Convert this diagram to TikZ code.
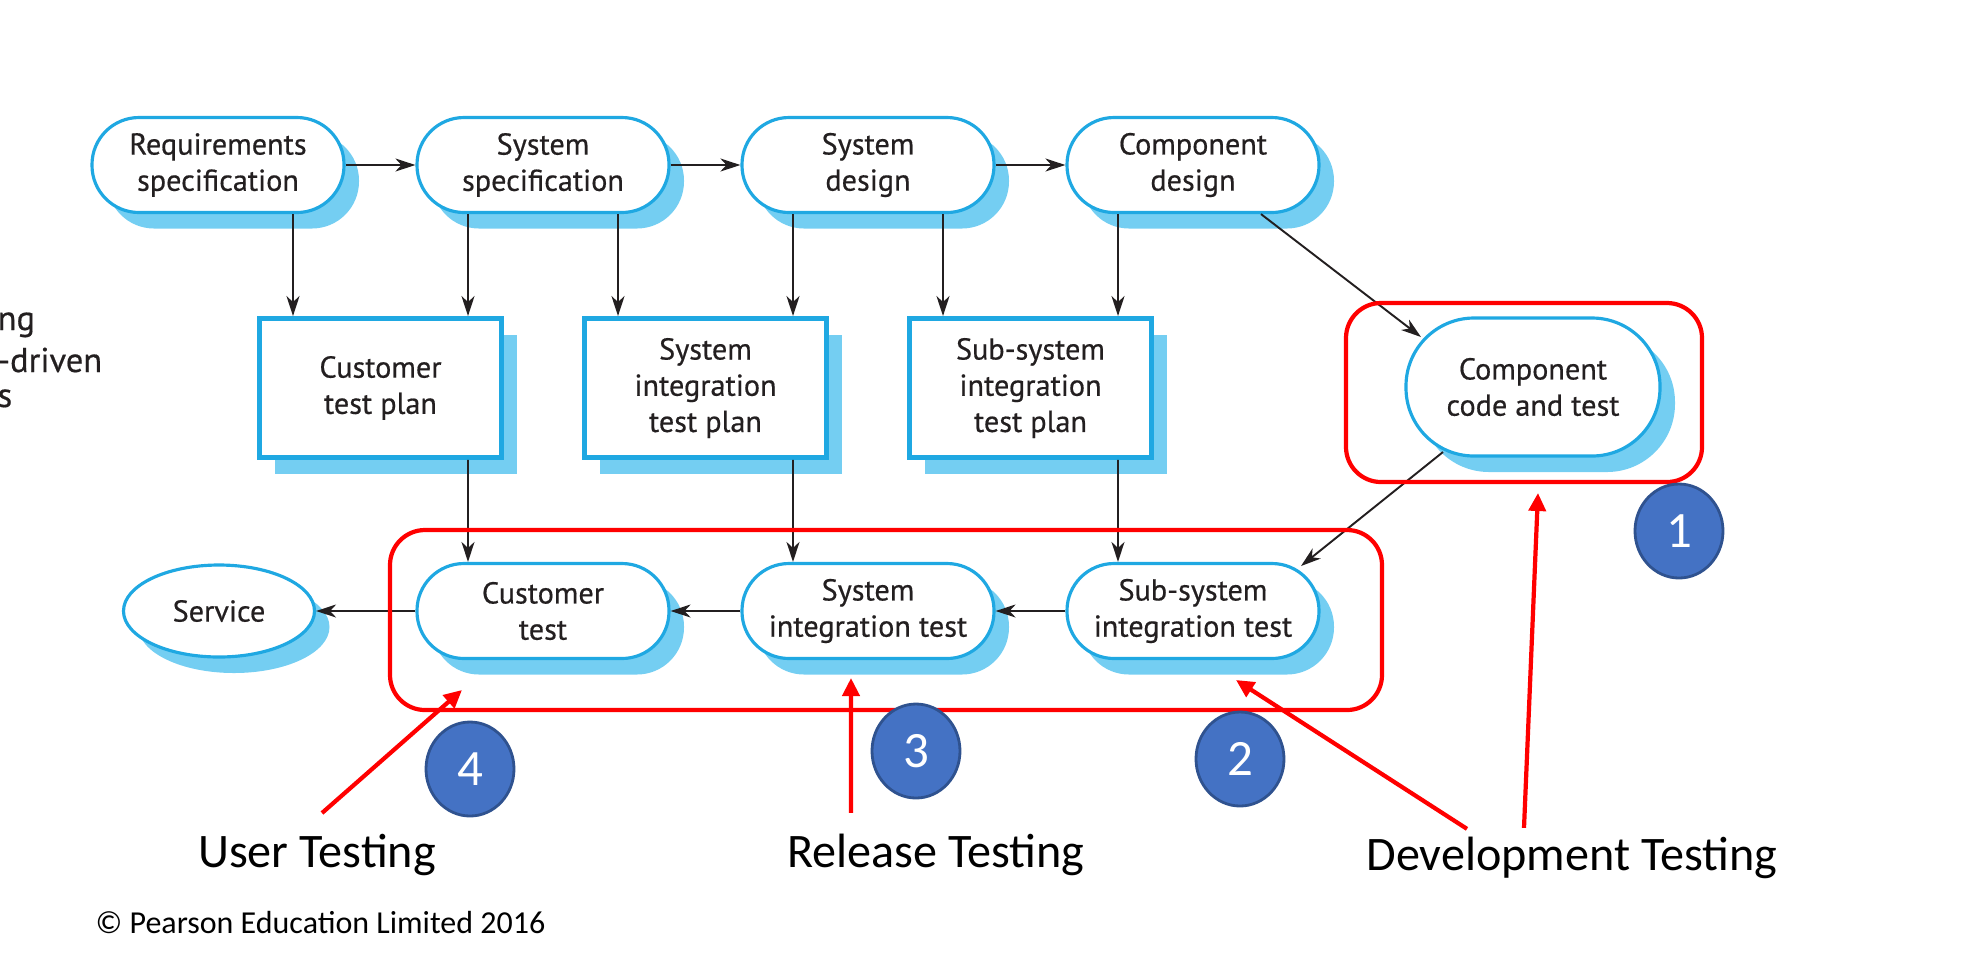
\documentclass[tikz,border=0pt]{standalone}
\usepackage{fontspec}
\setmainfont{PT Sans}[FakeBold=0.5]
\newfontfamily\notefont{Carlito}
\usetikzlibrary{arrows.meta,shapes.geometric,shadows}
\definecolor{ink}{HTML}{231F20}
\definecolor{edgeblue}{HTML}{1FA8E2}
\definecolor{shadeblue}{HTML}{74CEF2}
\definecolor{dotblue}{HTML}{4472C4}
\definecolor{dotedge}{HTML}{2F528F}
\tikzset{
    every node/.style={align=center, text=ink, font=\fontsize{8.6}{10.3}\selectfont},
    blueshade/.style={drop shadow={shadow xshift=1.5mm, shadow yshift=-1.6mm, fill=shadeblue, opacity=1}},
    stage/.style={draw=edgeblue, fill=white, line width=0.9pt, rectangle, rounded corners=4.7mm, minimum width=25.2mm, minimum height=9.5mm, inner sep=1pt, blueshade},
    plan/.style={draw=edgeblue, fill=white, line width=1.4pt, rectangle, minimum width=24.2mm, minimum height=13.9mm, inner sep=1pt, blueshade},
    flow/.style={draw=ink, line width=0.55pt, -{Stealth[length=2mm,width=1.3mm,inset=0.6mm]}},
    group/.style={draw=red, line width=1.2pt, rounded corners=3.5mm},
    pointer/.style={draw=red, line width=1.2pt, -{Triangle[length=1.8mm,width=1.7mm]}},
    badge/.style={ellipse, draw=dotedge, fill=dotblue, line width=0.8pt, minimum width=8.8mm, minimum height=9.4mm, inner sep=0pt, text=white, font=\notefont\fontsize{14.5}{14.5}\selectfont},
    caption/.style={inner sep=0pt, anchor=base, text=black, font=\notefont\fontsize{13.7}{13.7}\selectfont},
}

\begin{document}
\begin{tikzpicture}[x=1mm, y=-1mm]
        \useasboundingbox (0,0) rectangle (198.6,97.2);

        % cut-off caption on the left
        \node[anchor=base west, inner sep=0pt, font=\fontsize{9.8}{11}\selectfont] (cuta) at (-0.3, 33.0) {ng};
        \node[anchor=base west, inner sep=0pt, font=\fontsize{9.8}{11}\selectfont] (cutb) at (-0.3, 37.2) {-driven};
        \node[anchor=base west, inner sep=0pt, font=\fontsize{9.8}{11}\selectfont] (cutc) at (-0.3, 40.7) {s};

        \node[stage] (req) at (21.8, 16.5) {Requirements\\specification};
        \node[stage] (sysspec) at (54.3, 16.5) {System\\specification};
        \node[stage] (sysdes) at (86.8, 16.5) {System\\design};
        \node[stage] (compdes) at (119.3, 16.5) {Component\\design};

        \node[plan] (ctp) at (38.05, 38.8) {Customer\\test plan};
        \node[plan] (sitp) at (70.55, 38.8) {System\\integration\\test plan};
        \node[plan] (sstp) at (103.05, 38.8) {Sub-system\\integration\\test plan};
        \node[stage, minimum width=25.4mm, minimum height=13.8mm, rounded corners=6.8mm] (cct) at (153.3, 38.7) {Component\\code and test};

        \node[ellipse, draw=edgeblue, fill=white, line width=0.9pt, minimum width=19.1mm, minimum height=9.2mm, inner sep=1pt, blueshade] (service) at (21.9, 61.1) {Service};
        \node[stage] (ctest) at (54.3, 61.1) {Customer\\test};
        \node[stage] (sitest) at (86.8, 61.1) {System\\integration test};
        \node[stage] (ssitest) at (119.3, 61.1) {Sub-system\\integration test};

        \draw[flow] (req) to (sysspec);
        \draw[flow] (sysspec) to (sysdes);
        \draw[flow] (sysdes) to (compdes);

        \draw[flow] ([xshift=7.5mm]req.south) to ([xshift=-8.75mm]ctp.north);
        \draw[flow] ([xshift=-7.5mm]sysspec.south) to ([xshift=8.75mm]ctp.north);
        \draw[flow] ([xshift=7.5mm]sysspec.south) to ([xshift=-8.75mm]sitp.north);
        \draw[flow] ([xshift=-7.5mm]sysdes.south) to ([xshift=8.75mm]sitp.north);
        \draw[flow] ([xshift=7.5mm]sysdes.south) to ([xshift=-8.75mm]sstp.north);
        \draw[flow] ([xshift=-7.5mm]compdes.south) to ([xshift=8.75mm]sstp.north);
        \draw[flow] ([xshift=6.8mm]compdes.south) to ([xshift=-11.2mm,yshift=5mm]cct.center);

        \draw[flow] ([xshift=8.75mm]ctp.south) to ([xshift=-7.5mm]ctest.north);
        \draw[flow] ([xshift=8.75mm]sitp.south) to ([xshift=-7.5mm]sitest.north);
        \draw[flow] ([xshift=8.75mm]sstp.south) to ([xshift=-7.5mm]ssitest.north);
        \draw[flow] ([xshift=-9mm,yshift=-6.5mm]cct.center) to ([xshift=10.8mm,yshift=4.5mm]ssitest.center);

        \draw[flow] (ssitest) to (sitest);
        \draw[flow] (sitest) to (ctest);
        \draw[flow] (ctest) to (service);

        % red markings
        \draw[group] (134.6, 30.3) rectangle (170.2, 48.2);
        \draw[group] (39.0, 53.0) rectangle (138.2, 71.0);

        \node[badge] (one) at (167.9, 53.1) {1};
        \node[badge] (two) at (124.0, 75.9) {2};
        \node[badge] (three) at (91.6, 75.1) {3};
        \node[badge] (four) at (47.0, 76.9) {4};

        \node[caption] (usertest) at (31.7, 86.7) {User Testing};
        \node[caption] (reltest) at (93.6, 86.7) {Release Testing};
        \node[caption] (devtest) at (157.2, 87.0) {Development Testing};
        \node[caption, anchor=base west, font=\notefont\fontsize{9.1}{9.1}\selectfont] (copyline) at (9.5, 93.3) {© Pearson Education Limited 2016};

        \coordinate (userhit) at (46.2, 69.0);
        \coordinate (relhit) at (85.1, 67.8);
        \coordinate (subhit) at (123.6, 68.0);
        \coordinate (comphit) at (153.8, 49.3);

        \draw[pointer] ([xshift=0.5mm,yshift=2mm]usertest.north) to (userhit);
        \draw[pointer] ([xshift=-8.5mm,yshift=2mm]reltest.north) to (relhit);
        \draw[pointer] ([xshift=-10.5mm,yshift=0.7mm]devtest.north) to (subhit);
        \draw[pointer] ([xshift=-4.8mm,yshift=0.8mm]devtest.north) to (comphit);
    \end{tikzpicture}
\end{document}
